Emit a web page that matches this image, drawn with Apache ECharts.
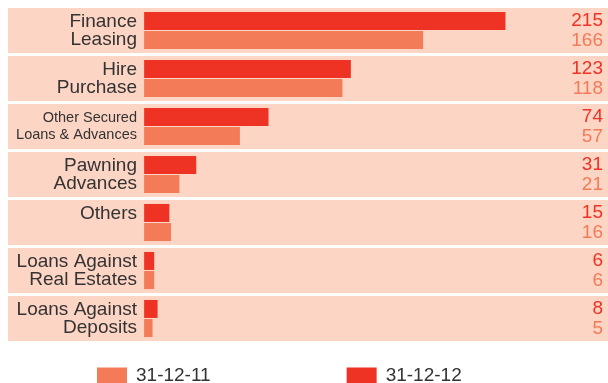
<!DOCTYPE html>
<html>
<head>
<meta charset="utf-8">
<script src="https://cdn.jsdelivr.net/npm/echarts@6/dist/echarts.min.js"></script>
<style>
  html, body { margin: 0; padding: 0; background: #fff; }
  #chart { width: 608px; height: 383px; }
</style>
</head>
<body>
<div id="chart"></div>
<script>
// 分类（每行的标签，\n 换行）
const categories = [
  'Finance\nLeasing',
  'Hire\nPurchase',
  'Other Secured\nLoans & Advances',
  'Pawning\nAdvances',
  'Others\n ',
  'Loans Against\nReal Estates',
  'Loans Against\nDeposits',
]
const values2012 = [215, 123, 74, 31, 15, 6, 8]
const values2011 = [166, 118, 57, 21, 16, 6, 5]
const seriesNames = ['31-12-11', '31-12-12']

const darkRed = '#EE3325'
const lightRed = '#F47B58'
const peach = '#FDD5C4'

const chart = echarts.init(document.getElementById('chart'))

const option = {
  animation: false,
  textStyle: { fontFamily: 'Liberation Sans, Arial, sans-serif' },
  legend: {
    data: seriesNames,
    left: 97,
    top: 366,
    padding: 0,
    icon: 'rect',
    itemWidth: 30,
    itemHeight: 16,
    itemGap: 136,
    textStyle: { fontSize: 19, color: '#333', padding: [0, 0, 0, 4] },
  },
  grid: {
    left: 8,
    right: 0,
    top: 6.5,
    height: 336,
  },
  xAxis: {
    type: 'value',
    min: -81,
    max: 276,
    show: false,
  },
  yAxis: [
    {
      type: 'category',
      inverse: true,
      data: categories,
      axisLine: { show: false },
      axisTick: { show: false },
      splitArea: { show: true, interval: 0, areaStyle: { color: [peach] } },
      splitLine: { show: true, interval: 0, lineStyle: { color: '#fff', width: 3 } },
      axisLabel: {
        interval: 0,
        margin: -129,
        align: 'right',
        formatter: (val, idx) => {
          const lines = val.split('\n')
          const key = idx === 2 ? 's' : 'n'
          return lines.map(l => `{${key}|${l}}`).join('\n')
        },
        rich: {
          n: { fontSize: 19, lineHeight: 18, color: '#333' },
          s: { fontSize: 14.5, lineHeight: 17, color: '#333' },
        },
      },
    },
    {
      type: 'category',
      inverse: true,
      position: 'right',
      data: categories,
      axisLine: { show: false },
      axisTick: { show: false },
      axisLabel: {
        interval: 0,
        margin: -5,
        align: 'right',
        formatter: (val, idx) => `{a|${values2012[idx]}}\n{b|${values2011[idx]}}`,
        rich: {
          a: { fontSize: 19, lineHeight: 20, color: darkRed },
          b: { fontSize: 19, lineHeight: 20, color: lightRed },
        },
      },
    },
  ],
  series: [
    {
      name: '31-12-12',
      type: 'bar',
      data: values2012,
      barWidth: 18,
      barGap: '6%',
      itemStyle: { color: darkRed },
    },
    {
      name: '31-12-11',
      type: 'bar',
      data: values2011,
      barWidth: 18,
      barGap: '6%',
      itemStyle: { color: lightRed },
    },
  ],
}

chart.setOption(option)
</script>
</body>
</html>
